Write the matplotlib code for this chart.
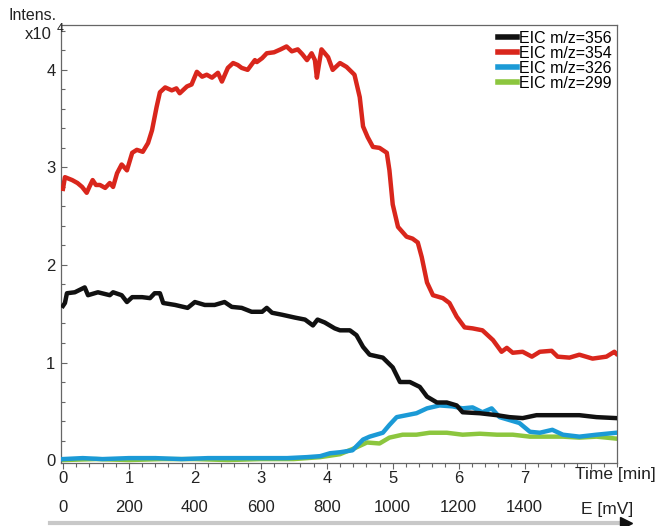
import matplotlib
matplotlib.use("Agg")
import matplotlib.pyplot as plt
from matplotlib.lines import Line2D
from matplotlib.ticker import MultipleLocator, FixedLocator

plt.rcParams['font.family'] = ['Liberation Sans', 'DejaVu Sans']

# EIC traces, time in min, intensity in units of 1e4
red_t = [0.0, 0.03, 0.14, 0.22, 0.29, 0.36, 0.40, 0.45, 0.50, 0.56,
         0.64, 0.71, 0.76, 0.82, 0.89, 0.97, 1.05, 1.12, 1.21, 1.29,
         1.35, 1.42, 1.47, 1.55, 1.65, 1.72, 1.77, 1.88, 1.95, 2.03,
         2.11, 2.18, 2.26, 2.35, 2.41, 2.50, 2.58, 2.65, 2.71, 2.80,
         2.91, 2.94, 3.02, 3.09, 3.20, 3.30, 3.39, 3.47, 3.56, 3.63,
         3.70, 3.77, 3.82, 3.85, 3.88, 3.92, 4.02, 4.09, 4.20, 4.30,
         4.42, 4.50, 4.55, 4.62, 4.70, 4.80, 4.91, 4.95, 5.00, 5.08,
         5.21, 5.30, 5.38, 5.44, 5.52, 5.61, 5.76, 5.86, 5.97, 6.09,
         6.21, 6.36, 6.52, 6.65, 6.73, 6.82, 6.97, 7.11, 7.23, 7.41,
         7.50, 7.68, 7.83, 8.03, 8.24, 8.36, 8.39]
red_v = [2.78, 2.90, 2.87, 2.84, 2.80, 2.74, 2.80, 2.87, 2.82, 2.82,
         2.79, 2.84, 2.80, 2.94, 3.03, 2.97, 3.15, 3.18, 3.16, 3.25,
         3.38, 3.62, 3.77, 3.82, 3.79, 3.81, 3.76, 3.83, 3.85, 3.98,
         3.93, 3.95, 3.92, 3.97, 3.88, 4.02, 4.07, 4.05, 4.02, 4.00,
         4.10, 4.08, 4.12, 4.17, 4.18, 4.21, 4.24, 4.19, 4.21, 4.16,
         4.10, 4.17, 4.10, 3.92, 4.05, 4.21, 4.13, 4.00, 4.07, 4.03,
         3.95, 3.72, 3.42, 3.31, 3.21, 3.20, 3.15, 2.97, 2.62, 2.39,
         2.29, 2.27, 2.23, 2.08, 1.82, 1.69, 1.66, 1.61, 1.47, 1.36,
         1.35, 1.33, 1.23, 1.11, 1.15, 1.10, 1.11, 1.06, 1.11, 1.12,
         1.06, 1.05, 1.08, 1.04, 1.06, 1.11, 1.09]

black_t = [0.0, 0.03, 0.06, 0.18, 0.33, 0.38, 0.53, 0.71, 0.76, 0.89,
           0.97, 1.05, 1.20, 1.32, 1.39, 1.47, 1.52, 1.70, 1.89, 2.00,
           2.15, 2.30, 2.45, 2.56, 2.71, 2.86, 3.02, 3.09, 3.17, 3.32,
           3.52, 3.67, 3.79, 3.86, 3.97, 4.12, 4.20, 4.35, 4.45, 4.55,
           4.65, 4.85, 5.00, 5.11, 5.26, 5.41, 5.52, 5.67, 5.82, 5.97,
           6.06, 6.32, 6.58, 6.77, 6.97, 7.18, 7.48, 7.83, 8.09, 8.39]
black_v = [1.58, 1.61, 1.71, 1.72, 1.77, 1.69, 1.72, 1.69, 1.72, 1.69,
           1.62, 1.67, 1.67, 1.66, 1.71, 1.71, 1.61, 1.59, 1.56, 1.62,
           1.59, 1.59, 1.62, 1.57, 1.56, 1.52, 1.52, 1.56, 1.51, 1.49,
           1.46, 1.44, 1.38, 1.44, 1.41, 1.35, 1.33, 1.33, 1.28, 1.16,
           1.08, 1.05, 0.95, 0.80, 0.80, 0.75, 0.65, 0.59, 0.59, 0.56,
           0.49, 0.48, 0.46, 0.44, 0.43, 0.46, 0.46, 0.46, 0.44, 0.43]

blue_t = [0.0, 0.3, 0.6, 1.0, 1.4, 1.8, 2.2, 2.6, 3.0, 3.4,
          3.7, 3.9, 4.05, 4.20, 4.39, 4.55, 4.65, 4.85, 4.95, 5.06,
          5.21, 5.36, 5.52, 5.71, 5.91, 6.06, 6.21, 6.36, 6.50, 6.62,
          6.77, 6.92, 7.08, 7.23, 7.42, 7.58, 7.83, 8.09, 8.39]
blue_v = [0.01, 0.02, 0.01, 0.02, 0.02, 0.01, 0.02, 0.02, 0.02, 0.02,
          0.03, 0.04, 0.07, 0.08, 0.10, 0.21, 0.24, 0.28, 0.36, 0.44,
          0.46, 0.48, 0.53, 0.56, 0.55, 0.53, 0.54, 0.49, 0.53, 0.44,
          0.41, 0.38, 0.29, 0.28, 0.31, 0.26, 0.24, 0.26, 0.28]

green_t = [0.0, 0.5, 1.0, 1.5, 2.0, 2.5, 3.0, 3.5, 3.9, 4.2,
           4.45, 4.61, 4.80, 4.95, 5.15, 5.36, 5.56, 5.82, 6.06, 6.32,
           6.58, 6.82, 7.08, 7.33, 7.58, 7.83, 8.09, 8.39]
green_v = [0.0, 0.01, 0.0, 0.01, 0.01, 0.0, 0.01, 0.01, 0.03, 0.06,
           0.13, 0.18, 0.17, 0.23, 0.26, 0.26, 0.28, 0.28, 0.26, 0.27,
           0.26, 0.26, 0.24, 0.24, 0.24, 0.23, 0.24, 0.22]

time_ticks = [0, 1, 2, 3, 4, 5, 6, 7, 8]
time_labels = ['0', '1', '2', '3', '4', '5', '6', '7', '']
e_ticks = [0, 200, 400, 600, 800, 1000, 1200, 1400]

fig = plt.figure(figsize=(6.6, 5.26), dpi=100)
ax = fig.add_axes([0.0924, 0.1198, 0.8424, 0.8327])

lw = 3.2
ax.plot(black_t, black_v, color='#111111', lw=lw, label='EIC m/z=356', zorder=4)
ax.plot(red_t, red_v, color='#d9261c', lw=lw, label='EIC m/z=354', zorder=4)
ax.plot(blue_t, blue_v, color='#1b9ad6', lw=lw, label='EIC m/z=326', zorder=3)
ax.plot(green_t, green_v, color='#8cc63e', lw=lw, label='EIC m/z=299', zorder=2)

ax.set_xlim(-0.03, 8.4)
ax.set_ylim(-0.03, 4.46)

for s in ax.spines.values():
    s.set_color('#666666')
    s.set_linewidth(0.9)

ax.xaxis.set_major_locator(FixedLocator(time_ticks))
ax.set_xticklabels(time_labels)
ax.xaxis.set_minor_locator(MultipleLocator(0.2))
ax.yaxis.set_major_locator(MultipleLocator(1))
ax.yaxis.set_minor_locator(MultipleLocator(0.2))
ax.tick_params(axis='x', which='major', direction='out', length=4, width=0.8,
               labelsize=12, pad=2, colors='#666666', labelcolor='#222222')
ax.tick_params(axis='x', which='minor', direction='out', length=3, width=0.8, colors='#666666')
ax.tick_params(axis='y', which='major', direction='in', length=4, width=0.8,
               labelsize=12, pad=4, colors='#666666', labelcolor='#222222')
ax.tick_params(axis='y', which='minor', direction='in', length=3, width=0.8, colors='#666666')

# second scale: potential
sec = ax.secondary_xaxis(-0.078, functions=(lambda t: t * 200, lambda e: e / 200))
sec.set_xticks(e_ticks)
sec.spines['bottom'].set_visible(False)
sec.tick_params(axis='x', length=0, labelsize=12, labelcolor='#222222', pad=2)
sec.tick_params(axis='x', which='minor', length=0)

ax.text(1.07, -0.01, 'Time [min]', transform=ax.transAxes, ha='right', va='top',
        fontsize=12.5, color='#222222')
ax.text(1.03, -0.088, 'E [mV]', transform=ax.transAxes, ha='right', va='top',
        fontsize=12.5, color='#222222')

fig.text(0.013, 0.970, 'Intens.', fontsize=11.5, color='#222222', va='center')
fig.text(0.038, 0.934, 'x10', fontsize=12, color='#222222', va='center')
fig.text(0.086, 0.945, '4', fontsize=9, color='#222222', va='center')

leg = ax.legend(loc='upper right', frameon=False, fontsize=11.5, handlelength=1.2,
                handletextpad=0.1, labelspacing=0.0, borderaxespad=0.15,
                borderpad=0.2)
for line in leg.get_lines():
    line.set_linewidth(4)

# potential sweep arrow
fig.add_artist(Line2D([0.075, 0.945], [0.006, 0.006], transform=fig.transFigure,
                      color='#c8c8c8', lw=3))
fig.add_artist(Line2D([0.948], [0.006], transform=fig.transFigure, marker='>',
                      markersize=9, color='#111111', lw=0))

fig.savefig('out.png', dpi=100)
